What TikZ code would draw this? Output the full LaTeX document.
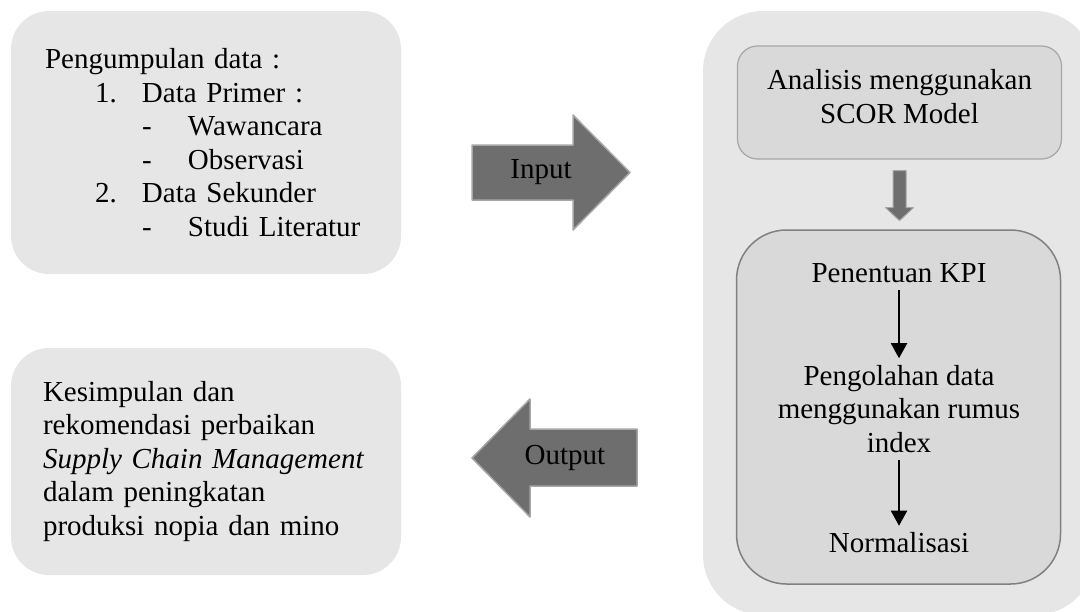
\documentclass[tikz,border=0pt]{standalone}
\usepackage{fontspec}
\setmainfont{Liberation Serif}
\usetikzlibrary{arrows.meta}
\definecolor{panelgray}{HTML}{E6E6E6}
\definecolor{boxgray}{HTML}{D9D9D9}
\definecolor{arrowgray}{HTML}{6E6E6E}
\definecolor{rimgray}{HTML}{A6A6A6}
\definecolor{edgegray}{HTML}{808080}
\begin{document}
\begin{tikzpicture}[x=0.5pt,y=-0.5pt,line join=round,font=\fontsize{14.5pt}{16.75pt}\selectfont,>={Triangle[width=8pt,length=7.5pt]}]
	\tikzset{panel/.style={fill=panelgray,rounded corners=19pt,minimum width=195pt,align=left},
	innerbox/.style={fill=boxgray,minimum width=162pt},
	blockarrow/.style={fill=arrowgray,draw=rimgray,line width=0.75pt}}
	\useasboundingbox (0,0) rectangle (1080,611);
	\node[panel,minimum height=131.5pt,text width=161pt,inner xsep=17pt] (collect) at (206,142.5) {Pengumpulan data :\\
	\hspace*{25pt}\makebox[23.5pt][l]{1.}Data Primer :\\
	\hspace*{48.5pt}\makebox[23pt][l]{-}Wawancara\\
	\hspace*{48.5pt}\makebox[23pt][l]{-}Observasi\\
	\hspace*{25pt}\makebox[23.5pt][l]{2.}Data Sekunder\\
	\hspace*{48.5pt}\makebox[23pt][l]{-}Studi Literatur};
	\node[panel,minimum height=113.5pt,text width=163pt,inner xsep=16pt] (result) at (206,461.5) {Kesimpulan dan\\rekomendasi perbaikan\\\textit{Supply Chain Management}\\dalam peningkatan\\produksi nopia dan mino};
	\node[fill=panelgray,rounded corners=30pt,minimum width=196pt,minimum height=302pt] (analysis) at (899,313) {};
	\node[innerbox,draw=rimgray,line width=0.6pt,rounded corners=10pt,minimum height=56.5pt,align=center,text depth=6pt] (scor) at (899.5,102.5) {Analisis menggunakan\\SCOR Model};
	\node[innerbox,draw=edgegray,line width=0.75pt,rounded corners=25pt,minimum height=177pt] (process) at (898.5,407) {};
	\node (kpi) at (899,273) {Penentuan KPI};
	\node[align=center] (olah) at (899,409) {Pengolahan data\\menggunakan rumus\\index};
	\node (norm) at (899,543) {Normalisasi};
	\draw[->,line width=1pt] (kpi) -- (olah);
	\draw[->,line width=1pt] (olah) -- (norm);
	\draw[blockarrow,line width=0.5pt,shift={(scor.south)}] (-6.5,11) -- (6.5,11) -- (6.5,48) -- (14,48) -- (0,61) -- (-14,48) -- (-6.5,48) -- cycle;
	\draw[blockarrow] (472,145) -- (573,145) -- (573,115) -- (630,172.5) -- (573,230) -- (573,200) -- (472,200) -- cycle;
	\node (input) at (541,172) {Input};
	\draw[blockarrow] (637,429) -- (530,429) -- (530,399) -- (472,458) -- (530,517) -- (530,486) -- (637,486) -- cycle;
	\node (output) at (565,458) {Output};
\end{tikzpicture}
\end{document}
